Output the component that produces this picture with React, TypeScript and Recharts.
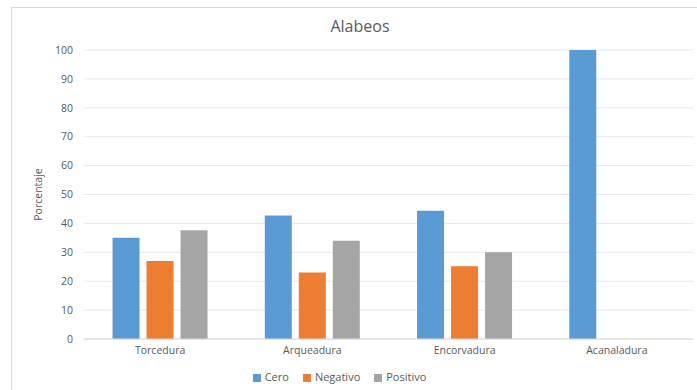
import React from "react";
import { BarChart, Bar, XAxis, YAxis, CartesianGrid, Legend } from "recharts";

const categories = ["Torcedura", "Arqueadura", "Encorvadura", "Acanaladura"];
const cero = [35, 42.7, 44.4, 100];
const negativo = [27, 23, 25.2, 0];
const positivo = [37.6, 34, 30, 0];
const yTicks = [0, 10, 20, 30, 40, 50, 60, 70, 80, 90, 100];

const data = categories.map((name, i) => ({
  name,
  Cero: cero[i],
  Negativo: negativo[i],
  Positivo: positivo[i],
}));

const FONT = "'Open Sans', Lato, sans-serif";
const TEXT = "#595959";

export default function App() {
  return (
    <div style={{ position: "absolute", left: 0, top: 0, width: 697, height: 390, background: "#fff", fontFamily: FONT }}>
      {/* chart border */}
      <div style={{ position: "absolute", left: 11, top: 7, width: 686, height: 383, borderTop: "1px solid #d9d9d9", borderLeft: "1px solid #d9d9d9" }} />
      <div style={{ position: "absolute", left: 0, top: 15, width: 720, textAlign: "center", fontSize: 16, color: TEXT }}>
        Alabeos
      </div>
      <BarChart
        width={697}
        height={390}
        data={data}
        margin={{ top: 50, right: 4, left: 0, bottom: 0 }}
        barCategoryGap="18.75%"
        barGap={7}
        style={{ position: "absolute", left: 0, top: 0 }}
      >
        <CartesianGrid vertical={false} stroke="#e8e8e8" />
        <XAxis
          dataKey="name"
          height={17}
          tickLine={false}
          axisLine={{ stroke: "#d9d9d9" }}
          tick={{ fill: TEXT, fontSize: 10.5, fontFamily: FONT }}
        />
        <YAxis
          width={84}
          domain={[0, 100]}
          ticks={yTicks}
          tickLine={false}
          axisLine={false}
          tickMargin={5}
          tick={{ fill: TEXT, fontSize: 10.5, fontFamily: FONT }}
          label={{ value: "Porcentaje", angle: -90, position: "insideLeft", offset: 38, style: { fill: TEXT, fontSize: 10.5, fontFamily: FONT, textAnchor: "middle" } }}
        />
        <Legend
          verticalAlign="bottom"
          height={25}
          iconType="square"
          iconSize={8}
          wrapperStyle={{ fontSize: 11, fontFamily: FONT, paddingTop: 9, bottom: -4 }}
          formatter={(v) => <span style={{ color: TEXT, marginRight: 4 }}>{v}</span>}
        />
        <Bar dataKey="Cero" fill="#5b9bd5" isAnimationActive={false} />
        <Bar dataKey="Negativo" fill="#ed7d31" isAnimationActive={false} />
        <Bar dataKey="Positivo" fill="#a5a5a5" isAnimationActive={false} />
      </BarChart>
    </div>
  );
}
